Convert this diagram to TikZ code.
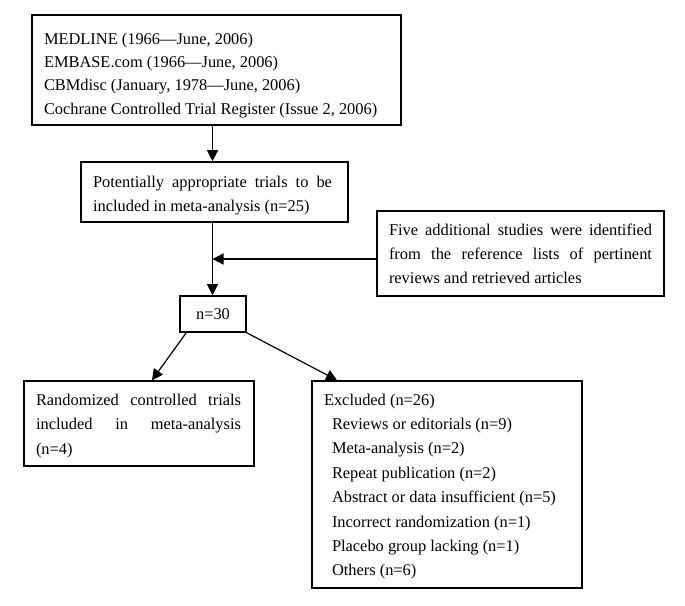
\documentclass[tikz,border=0pt]{standalone}
\usepackage{fontspec}
\setmainfont{Liberation Serif}
\usetikzlibrary{arrows.meta}
\newcommand\boxtxt[5]{\parbox[c][#2][t]{#1}{\fontsize{16.4}{#4}\selectfont\raggedright\rule{0pt}{#3}#5}}
\begin{document}
\begin{tikzpicture}[x=1pt,y=-1pt,
  box/.style={draw, line width=1.6pt, inner xsep=12pt, inner ysep=0pt},
  arr/.style={line width=1.2pt, -{Triangle[length=11pt,width=11pt]}}]
\useasboundingbox (0,0) rectangle (685,605);
% boxes
\node[box] (src) at (216.5,70) {\boxtxt{345pt}{110pt}{29pt}{23.4pt}{%
MEDLINE (1966—June, 2006)\\
EMBASE.com (1966—June, 2006)\\
CBMdisc (January, 1978—June, 2006)\\
Cochrane Controlled Trial Register (Issue 2, 2006)}};
\node[box] (pot) at (214.5,192) {\boxtxt{243pt}{60pt}{25pt}{24pt}{%
\makebox[239pt][s]{Potentially appropriate trials to be}\\
included in meta-analysis (n=25)}};
\node[box] (five) at (520.5,253.5) {\boxtxt{263pt}{85pt}{24pt}{24pt}{%
\makebox[263pt][s]{Five additional studies were identified}\\
\makebox[263pt][s]{from the reference lists of pertinent}\\
reviews and retrieved articles}};
\node[box, inner sep=0pt, minimum width=66pt, minimum height=36pt,
  font=\fontsize{16.4}{20}\selectfont] (n30) at (213,314) {n=30};
\node[box] (rand) at (139,423.5) {\boxtxt{206pt}{85pt}{24pt}{24.5pt}{%
\makebox[205pt][s]{Randomized controlled trials}\\
\makebox[205pt][s]{included in meta-analysis}\\
(n=4)}};
\node[box] (excl) at (447,484.5) {\boxtxt{246pt}{207pt}{24pt}{24.4pt}{%
Excluded (n=26)\\
\hspace*{8pt}Reviews or editorials (n=9)\\
\hspace*{8pt}Meta-analysis (n=2)\\
\hspace*{8pt}Repeat publication (n=2)\\
\hspace*{8pt}Abstract or data insufficient (n=5)\\
\hspace*{8pt}Incorrect randomization (n=1)\\
\hspace*{8pt}Placebo group lacking (n=1)\\
\hspace*{8pt}Others (n=6)}};
% helper coordinates
\coordinate (cx) at (212.5,0);
\coordinate (j) at (212.5,259);
\coordinate (rt) at (152,0);
\coordinate (et) at (337,0);
% connectors
\draw[arr] (src.south -| cx) -- (pot.north -| cx);
\draw[arr] (pot.south -| cx) -- (n30.north -| cx);
\draw[arr] (five.west |- j) -- (j);
\draw[arr] ([xshift=7pt]n30.south west) -- (rand.north -| rt);
\draw[arr] (n30.south east) -- (excl.north -| et);
\end{tikzpicture}
\end{document}
